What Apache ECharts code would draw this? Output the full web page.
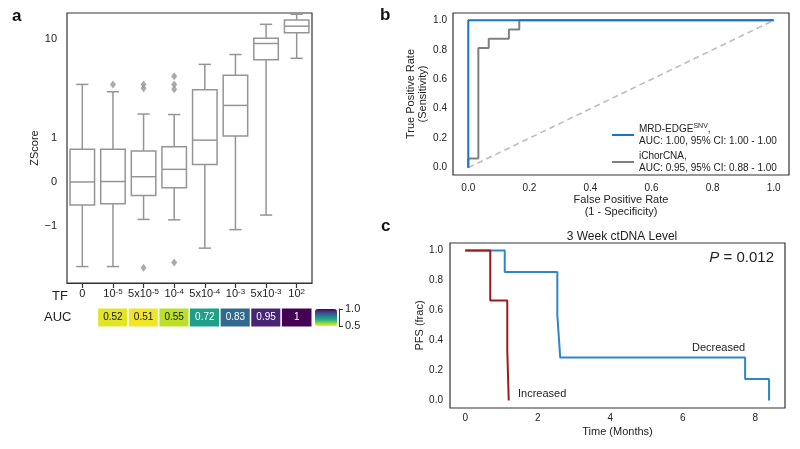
<!DOCTYPE html>
<html>
<head>
<meta charset="utf-8">
<script src="https://cdn.jsdelivr.net/npm/echarts@6/dist/echarts.min.js"></script>
<style>
  html, body { margin: 0; padding: 0; background: #fff; }
  #main { width: 800px; height: 449px; }
</style>
</head>
<body>
<div id="main"></div>
<script>
// panel a: ZScore by tumour fraction
var tfLabels = ['0', '10^-5', '5x10^-5', '10^-4', '5x10^-4', '10^-3', '5x10^-3', '10^2'];
// [min, q1, median, q3, max] per TF
var zBoxes = [
    [-2.59, -0.53, 0.00, 0.75, 3.5],
    [-2.59, -0.50, 0.01, 0.75, 2.95],
    [-0.86, -0.31, 0.12, 0.71, 1.76],
    [-0.87, -0.13, 0.29, 0.81, 1.74],
    [-1.69, 0.40, 0.96, 3.1, 5.57],
    [-1.10, 1.06, 2.15, 4.33, 7.0],
    [-0.76, 6.2, 9.04, 10.2, 14.1],
    [6.41, 11.6, 13.5, 15.6, 17.8]
];
var zOutliers = [[1, 3.5], [2, 3.5], [2, 3.2], [2, -2.66], [3, 4.24], [3, 3.5], [3, 3.13], [3, -2.36]];
var aucVals = [null, 0.52, 0.51, 0.55, 0.72, 0.83, 0.95, 1];
var zTicks = [-1, 0, 1, 10];

// panel b: ROC
var mrdFpr = [0, 0, 0, 1];
var mrdTpr = [0, 0.53, 1, 1];
var ichFpr = [0, 0, 0.033, 0.033, 0.067, 0.067, 0.133, 0.133, 0.167, 0.167, 1];
var ichTpr = [0, 0.0625, 0.0625, 0.8125, 0.8125, 0.875, 0.875, 0.9375, 0.9375, 1, 1];

// panel c: Kaplan-Meier
var incTime = [0, 0.69, 1.16, 1.2];
var incSurv = [1, 0.667, 0.333, 0];
var decTime = [0, 1.09, 2.54, 2.58, 2.62, 7.72, 8.38];
var decSurv = [1, 0.857, 0.571, 0.429, 0.286, 0.143, 0];

var FONT = 'Liberation Sans';
var K = 2.28; // log decade size vs linear unit

function zs(v) {
    if (Math.abs(v) <= 1) return v;
    return Math.sign(v) * (1 + K * Math.log10(Math.abs(v)));
}
function zsInv(u) {
    if (Math.abs(u) <= 1) return u;
    return Math.sign(u) * Math.pow(10, (Math.abs(u) - 1) / K);
}
function zip(a, b) {
    return a.map(function (v, i) { return [v, b[i]]; });
}

var viridisR = ['#fde725', '#b5de2b', '#6ece58', '#35b779', '#1f9e89', '#26828e', '#31688e', '#3e4989', '#482878', '#440154'];

var boxData = zBoxes.map(function (b, i) { return [i].concat(b.map(zs)); });
var outData = zOutliers.map(function (o) { return [o[0], zs(o[1])]; });
var aucData = [];
aucVals.forEach(function (v, i) {
    if (v == null) return;
    aucData.push({ value: [i, 0, v], label: { color: v > 0.65 ? '#fff' : '#111' } });
});

var BOXC = '#959595';
var axisTxt = { fontFamily: FONT, fontSize: 10, color: '#222' };
var noLine = { show: false, onZero: false };

var option = {
    animation: false,
    textStyle: { fontFamily: FONT },
    title: [{
        text: '3 Week ctDNA Level', left: 617, top: 226, textAlign: 'center',
        textStyle: { fontFamily: FONT, fontSize: 12, fontWeight: 'normal', color: '#222' }
    }],
    grid: [
        { left: 67, top: 13, width: 245, height: 270, show: true, borderColor: '#333', borderWidth: 1.2, backgroundColor: 'transparent' },
        { left: 67, top: 308, width: 245, height: 19 },
        { left: 331, top: 309, width: 8, height: 17 },
        { left: 453, top: 13, width: 336, height: 162, show: true, borderColor: '#333', borderWidth: 1.2, backgroundColor: 'transparent' },
        { left: 450, top: 243, width: 335, height: 165, show: true, borderColor: '#333', borderWidth: 1.2, backgroundColor: 'transparent' }
    ],
    xAxis: [
        {
            gridIndex: 0, type: 'category', data: tfLabels,
            axisLine: { show: true, onZero: false, lineStyle: { color: '#333', width: 1.2 } },
            axisTick: { show: true, alignWithLabel: true, length: 5, lineStyle: { color: '#333', width: 1.2 } },
            axisLabel: {
                margin: 5, fontSize: 11, color: '#222', fontFamily: FONT, interval: 0,
                formatter: function (s) { return s.replace(/\^(.*)$/, '{s|$1}'); },
                rich: { s: { fontSize: 8, verticalAlign: 'top', lineHeight: 8, fontFamily: FONT, color: '#222' } }
            }
        },
        { gridIndex: 1, type: 'category', data: tfLabels, show: false, axisLine: noLine },
        { gridIndex: 2, type: 'value', show: false, min: 0, max: 1, axisLine: noLine },
        {
            gridIndex: 3, type: 'value', min: -0.05, max: 1.05,
            axisLine: noLine, axisTick: { show: false }, splitLine: { show: false },
            axisLabel: Object.assign({ customValues: [0, 0.2, 0.4, 0.6, 0.8, 1.0], margin: 8, formatter: function (v) { return v.toFixed(1); } }, axisTxt),
            name: 'False Positive Rate\n(1 - Specificity)', nameLocation: 'middle', nameGap: 18,
            nameTextStyle: { fontFamily: FONT, fontSize: 11, color: '#222', lineHeight: 12 }
        },
        {
            gridIndex: 4, type: 'value', min: -0.42, max: 8.82,
            axisLine: noLine, axisTick: { show: false }, splitLine: { show: false },
            axisLabel: Object.assign({ customValues: [0, 2, 4, 6, 8], margin: 5 }, axisTxt),
            name: 'Time (Months)', nameLocation: 'middle', nameGap: 18,
            nameTextStyle: { fontFamily: FONT, fontSize: 11, color: '#222' }
        }
    ],
    yAxis: [
        {
            gridIndex: 0, type: 'value', min: -2.32, max: 3.88,
            axisLine: noLine, axisTick: { show: false }, splitLine: { show: false },
            axisLabel: {
                customValues: zTicks.map(zs), margin: 10, fontSize: 11, color: '#222', fontFamily: FONT,
                formatter: function (u) {
                    var v = Math.round(zsInv(u));
                    return v < 0 ? '\u2212' + (-v) : String(v);
                }
            },
            name: 'ZScore', nameLocation: 'middle', nameGap: 25, nameRotate: 90,
            nameTextStyle: { fontFamily: FONT, fontSize: 11, color: '#222' }
        },
        { gridIndex: 1, type: 'category', data: ['AUC'], show: false, axisLine: noLine },
        {
            gridIndex: 2, type: 'value', min: 0.5, max: 1.0, interval: 0.5, position: 'right',
            axisLine: { show: true, onZero: false, lineStyle: { color: '#333', width: 1 } },
            axisTick: { show: true, length: 4, lineStyle: { color: '#333' } },
            splitLine: { show: false },
            axisLabel: { margin: 6, fontSize: 11, color: '#222', fontFamily: FONT, formatter: function (v) { return v.toFixed(1); } }
        },
        {
            gridIndex: 3, type: 'value', min: -0.05, max: 1.05,
            axisLine: noLine, axisTick: { show: false }, splitLine: { show: false },
            axisLabel: Object.assign({ customValues: [0, 0.2, 0.4, 0.6, 0.8, 1.0], margin: 6, formatter: function (v) { return v.toFixed(1); } }, axisTxt),
            name: 'True Positive Rate\n(Sensitivity)', nameLocation: 'middle', nameGap: 23, nameRotate: 90,
            nameTextStyle: { fontFamily: FONT, fontSize: 11, color: '#222', lineHeight: 12 }
        },
        {
            gridIndex: 4, type: 'value', min: -0.05, max: 1.05,
            axisLine: noLine, axisTick: { show: false }, splitLine: { show: false },
            axisLabel: Object.assign({ customValues: [0, 0.2, 0.4, 0.6, 0.8, 1.0], margin: 7, formatter: function (v) { return v.toFixed(1); } }, axisTxt),
            name: 'PFS (frac)', nameLocation: 'middle', nameGap: 23, nameRotate: 90,
            nameTextStyle: { fontFamily: FONT, fontSize: 11, color: '#222' }
        }
    ],
    visualMap: {
        type: 'continuous', min: 0.5, max: 1, seriesIndex: 2,
        left: 315, top: 309, itemWidth: 22, itemHeight: 17, padding: 0,
        calculable: false, hoverLink: false, text: null, showLabel: false,
        inRange: { color: viridisR }
    },
    legend: {
        data: ['MRD-EDGE', 'iChorCNA'], orient: 'vertical', left: 607, top: 118,
        icon: 'rect', itemWidth: 22, itemHeight: 2, itemGap: 3,
        textStyle: {
            fontFamily: FONT, fontSize: 10, color: '#222', lineHeight: 12,
            rich: { s: { fontSize: 7, lineHeight: 7, verticalAlign: 'top', fontFamily: FONT, color: '#222' } }
        },
        formatter: function (n) {
            return n === 'MRD-EDGE'
                ? 'MRD-EDGE{s|SNV},\nAUC: 1.00, 95% CI: 1.00 - 1.00'
                : 'iChorCNA,\nAUC: 0.95, 95% CI: 0.88 - 1.00';
        }
    },
    graphic: [
        { type: 'text', left: 12, top: 8, style: { text: 'a', font: 'bold 17px ' + FONT, fill: '#111' } },
        { type: 'text', left: 380, top: 7, style: { text: 'b', font: 'bold 17px ' + FONT, fill: '#111' } },
        { type: 'text', left: 381, top: 218, style: { text: 'c', font: 'bold 17px ' + FONT, fill: '#111' } },
        { type: 'text', left: 52, top: 290, style: { text: 'TF', font: '13px ' + FONT, fill: '#222' } },
        { type: 'text', left: 44, top: 311, style: { text: 'AUC', font: '13px ' + FONT, fill: '#222' } },
        { type: 'text', left: 692, top: 342, style: { text: 'Decreased', font: '11px ' + FONT, fill: '#222' } },
        { type: 'text', left: 518, top: 388, style: { text: 'Increased', font: '11px ' + FONT, fill: '#222' } },
        {
            type: 'text', right: 26, top: 250,
            style: { text: '{i|P} = 0.012', font: '15px ' + FONT, fill: '#222', rich: { i: { fontStyle: 'italic', fontSize: 15, fontFamily: FONT } } }
        }
    ],
    series: [
        {
            type: 'custom', xAxisIndex: 0, yAxisIndex: 0, data: boxData, z: 3,
            renderItem: function (params, api) {
                var i = api.value(0);
                var lo = api.coord([i, api.value(1)]);
                var q1 = api.coord([i, api.value(2)]);
                var md = api.coord([i, api.value(3)]);
                var q3 = api.coord([i, api.value(4)]);
                var hi = api.coord([i, api.value(5)]);
                var bw = api.size([1, 0])[0] * 0.8;
                var cw = bw / 2;
                var x = lo[0];
                var st = { stroke: BOXC, lineWidth: 1.5, fill: null };
                return {
                    type: 'group',
                    children: [
                        { type: 'line', shape: { x1: x, y1: q1[1], x2: x, y2: lo[1] }, style: st },
                        { type: 'line', shape: { x1: x, y1: q3[1], x2: x, y2: hi[1] }, style: st },
                        { type: 'line', shape: { x1: x - cw / 2, y1: lo[1], x2: x + cw / 2, y2: lo[1] }, style: st },
                        { type: 'line', shape: { x1: x - cw / 2, y1: hi[1], x2: x + cw / 2, y2: hi[1] }, style: st },
                        { type: 'rect', shape: { x: x - bw / 2, y: q3[1], width: bw, height: q1[1] - q3[1] }, style: { stroke: BOXC, lineWidth: 1.5, fill: '#fff' } },
                        { type: 'line', shape: { x1: x - bw / 2, y1: md[1], x2: x + bw / 2, y2: md[1] }, style: st }
                    ]
                };
            }
        },
        {
            type: 'scatter', xAxisIndex: 0, yAxisIndex: 0, data: outData,
            symbol: 'diamond', symbolSize: [6, 8], itemStyle: { color: BOXC }, z: 4
        },
        {
            type: 'heatmap', xAxisIndex: 1, yAxisIndex: 1, data: aucData,
            itemStyle: { borderColor: '#fff', borderWidth: 1.5 },
            label: { show: true, fontSize: 10, fontFamily: FONT, formatter: function (p) { return String(p.value[2]); } }
        },
        {
            type: 'line', name: 'diag', xAxisIndex: 3, yAxisIndex: 3, data: [[0, 0], [1, 1]],
            symbol: 'none', lineStyle: { color: '#bdbdbd', width: 1.6, type: [6, 4] }, z: 2
        },
        {
            type: 'line', name: 'iChorCNA', xAxisIndex: 3, yAxisIndex: 3, data: zip(ichFpr, ichTpr),
            symbol: 'none', color: '#808080', lineStyle: { color: '#808080', width: 2 }, z: 3
        },
        {
            type: 'line', name: 'MRD-EDGE', xAxisIndex: 3, yAxisIndex: 3, data: zip(mrdFpr, mrdTpr),
            symbol: 'none', color: '#1a74c8', lineStyle: { color: '#1a74c8', width: 2 }, z: 4
        },
        {
            type: 'line', name: 'Decreased', xAxisIndex: 4, yAxisIndex: 4, data: zip(decTime, decSurv),
            step: 'end', symbol: 'none', lineStyle: { color: '#2f86c8', width: 2 }, z: 3
        },
        {
            type: 'line', name: 'Increased', xAxisIndex: 4, yAxisIndex: 4, data: zip(incTime, incSurv),
            step: 'end', symbol: 'none', lineStyle: { color: '#9e1a1a', width: 2 }, z: 4
        }
    ]
};

var chart = echarts.init(document.getElementById('main'), null, { renderer: 'canvas' });
chart.setOption(option);
</script>
</body>
</html>
